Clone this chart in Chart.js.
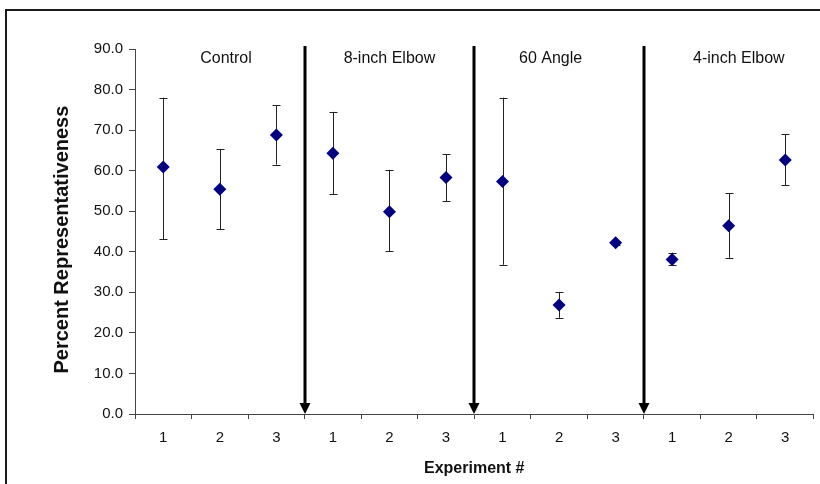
<!DOCTYPE html>
<html>
<head>
<meta charset="utf-8">
<script src="https://cdn.jsdelivr.net/npm/chart.js@4"></script>
<style>
    body { margin: 0; background: #fff; }
    canvas { display: block; }
</style>
</head>
<body>
<canvas id="chart" width="820" height="484"></canvas>
<script>
// Data
const experiments = ['1', '2', '3', '1', '2', '3', '1', '2', '3', '1', '2', '3'];
const meanValues = [60.9, 55.4, 68.8, 64.3, 49.9, 58.3, 57.3, 26.9, 42.2, 38.1, 46.4, 62.6];
const upperValues = [78.0, 65.3, 76.2, 74.5, 60.2, 64.0, 78.0, 30.1, 42.7, 39.8, 54.4, 69.0];
const lowerValues = [43.1, 45.5, 61.5, 54.2, 40.2, 52.5, 36.8, 23.7, 41.7, 36.7, 38.5, 56.4];
const yTicks = [0, 10, 20, 30, 40, 50, 60, 70, 80, 90];

// Group names and where they sit (in category units)
const groupNames = ['Control', '8-inch Elbow', '60 Angle', '4-inch Elbow'];
const groupLabelAt = [1.11, 4.0, 6.85, 10.18];
const dividersAt = [2.5, 5.5, 8.5];

const FONT = 'Liberation Sans, Arial, sans-serif';

// ============================================
// Outer frame + y axis title
// ============================================
const framePlugin = {
    id: 'frame',
    beforeDraw(chart) {
        const ctx = chart.ctx;
        const y = chart.scales.y;
        ctx.save();
        ctx.strokeStyle = '#1a1a1a';
        ctx.lineWidth = 2;
        ctx.strokeRect(6, 10, 840, 500);

        // y title sits a little below the plot's middle in the original
        ctx.translate(62, y.getPixelForValue(43));
        ctx.rotate(-Math.PI / 2);
        ctx.font = 'bold 20px ' + FONT;
        ctx.fillStyle = '#111';
        ctx.textAlign = 'center';
        ctx.textBaseline = 'middle';
        ctx.fillText('Percent Representativeness', 0, 0);
        ctx.restore();
    }
};

// ============================================
// Error bars (drawn from the upper / lower arrays)
// ============================================
const errorBarPlugin = {
    id: 'errorBars',
    beforeDatasetsDraw(chart) {
        const ctx = chart.ctx;
        const x = chart.scales.x;
        const y = chart.scales.y;
        ctx.save();
        ctx.strokeStyle = '#222';
        ctx.lineWidth = 1;
        meanValues.forEach((v, i) => {
            const px = Math.round(x.getPixelForValue(i)) + 0.5;
            const top = y.getPixelForValue(upperValues[i]);
            const bot = y.getPixelForValue(lowerValues[i]);
            ctx.beginPath();
            ctx.moveTo(px, top);
            ctx.lineTo(px, bot);
            ctx.moveTo(px - 4, Math.round(top) + 0.5);
            ctx.lineTo(px + 4, Math.round(top) + 0.5);
            ctx.moveTo(px - 4, Math.round(bot) + 0.5);
            ctx.lineTo(px + 4, Math.round(bot) + 0.5);
            ctx.stroke();
        });
        ctx.restore();
    }
};

// ============================================
// Group dividers (arrows) and group labels
// ============================================
const groupPlugin = {
    id: 'groups',
    afterDatasetsDraw(chart) {
        const ctx = chart.ctx;
        const x = chart.scales.x;
        const area = chart.chartArea;
        ctx.save();
        ctx.fillStyle = '#000';
        ctx.strokeStyle = '#000';
        dividersAt.forEach(v => {
            const px = Math.round(x.getPixelForValue(v));
            ctx.lineWidth = 3;
            ctx.beginPath();
            ctx.moveTo(px, area.top - 3);
            ctx.lineTo(px, area.bottom - 8);
            ctx.stroke();
            ctx.beginPath();
            ctx.moveTo(px - 5.5, area.bottom - 11);
            ctx.lineTo(px + 5.5, area.bottom - 11);
            ctx.lineTo(px, area.bottom);
            ctx.closePath();
            ctx.fill();
        });
        ctx.font = '16px ' + FONT;
        ctx.textAlign = 'center';
        ctx.textBaseline = 'middle';
        ctx.fillStyle = '#111';
        groupNames.forEach((name, i) => {
            ctx.fillText(name, x.getPixelForValue(groupLabelAt[i]), area.top + 10);
        });
        ctx.restore();
    }
};

new Chart(document.getElementById('chart'), {
    type: 'line',
    data: {
        labels: experiments,
        datasets: [{
            data: meanValues,
            showLine: false,
            pointStyle: 'rectRot',
            pointRadius: 6.5,
            pointHoverRadius: 6.5,
            pointBackgroundColor: '#000080',
            pointBorderColor: '#000080',
            pointBorderWidth: 0
        }]
    },
    options: {
        responsive: false,
        animation: false,
        events: [],
        layout: {
            padding: { left: 0, top: 49, right: 6, bottom: 0 }
        },
        plugins: {
            legend: { display: false },
            tooltip: { enabled: false }
        },
        scales: {
            x: {
                type: 'category',
                offset: true,
                grid: {
                    offset: true,
                    drawOnChartArea: false,
                    drawTicks: true,
                    tickLength: 5,
                    color: '#444'
                },
                border: { color: '#444', width: 1 },
                ticks: {
                    color: '#111',
                    font: { family: FONT, size: 15 },
                    padding: 10,
                    maxRotation: 0,
                    autoSkip: false
                },
                title: {
                    display: true,
                    text: 'Experiment #',
                    color: '#111',
                    font: { family: FONT, size: 16, weight: 'bold' },
                    padding: { top: 0, bottom: 6 }
                },
                afterFit(scale) { scale.height = 70; }
            },
            y: {
                min: 0,
                max: 90,
                afterBuildTicks(scale) {
                    scale.ticks = yTicks.map(v => ({ value: v }));
                },
                grid: {
                    drawOnChartArea: false,
                    drawTicks: true,
                    tickLength: 6,
                    color: '#444'
                },
                border: { color: '#444', width: 1 },
                ticks: {
                    color: '#111',
                    font: { family: FONT, size: 15 },
                    padding: 6,
                    callback: v => Number(v).toFixed(1)
                },
                afterFit(scale) { scale.width = 135; }
            }
        }
    },
    plugins: [framePlugin, errorBarPlugin, groupPlugin]
});
</script>
</body>
</html>
